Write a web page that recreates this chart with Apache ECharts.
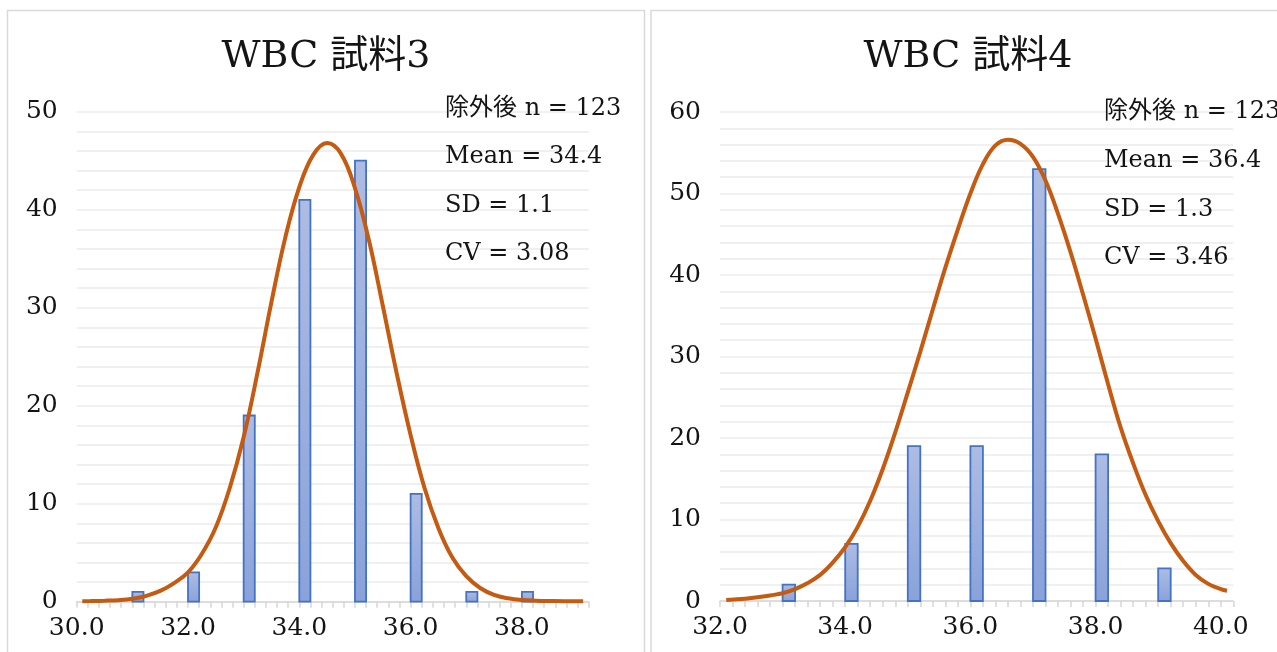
<!DOCTYPE html>
<html><head><meta charset="utf-8">
<script src="https://cdn.jsdelivr.net/npm/echarts@6/dist/echarts.min.js"></script>
<style>html,body{margin:0;padding:0;background:#fff}#c{width:1277px;height:652px}</style>
</head><body><div id="c"></div>
<script>
// ---- data ----
const bins3   = [31, 32, 33, 34, 35, 36, 37, 38];
const counts3 = [1, 3, 19, 41, 45, 11, 1, 1];
const curve3X = [30.1, 30.25, 30.5, 30.75, 31.0, 31.25, 31.5, 31.75, 32.0, 32.25, 32.5, 32.75, 33.0, 33.25, 33.5, 33.75, 34.0, 34.25, 34.5, 34.75, 35.0, 35.25, 35.5, 35.75, 36.0, 36.25, 36.5, 36.75, 37.0, 37.25, 37.5, 37.75, 38.0, 38.25, 38.5, 38.75, 39.0, 39.1];
const curve3Y = [0.05, 0.06, 0.1, 0.16, 0.3, 0.6, 1.1, 1.9, 3.0, 4.9, 7.6, 11.6, 16.8, 23.4, 30.6, 37.2, 42.3, 45.6, 46.8, 45.7, 42.2, 36.9, 30.2, 23.3, 17.0, 11.6, 7.5, 4.5, 2.6, 1.4, 0.7, 0.35, 0.17, 0.1, 0.07, 0.05, 0.05, 0.05];

const bins4   = [33, 34, 35, 36, 37, 38, 39];
const counts4 = [2, 7, 19, 19, 53, 18, 4];
const curve4X = [32.1, 32.2, 32.4, 32.6, 32.8, 33.0, 33.2, 33.4, 33.6, 33.8, 34.0, 34.2, 34.4, 34.6, 34.8, 35.0, 35.2, 35.4, 35.6, 35.8, 36.0, 36.2, 36.4, 36.6, 36.8, 37.0, 37.2, 37.4, 37.6, 37.8, 38.0, 38.2, 38.4, 38.6, 38.8, 39.0, 39.2, 39.4, 39.6, 39.8, 40.0, 40.1];
const curve4Y = [0.12, 0.17, 0.28, 0.45, 0.68, 0.95, 1.45, 2.2, 3.2, 4.7, 6.6, 9.1, 12.3, 16.2, 20.7, 25.6, 30.6, 35.8, 40.9, 45.6, 50.0, 53.6, 55.9, 56.6, 56.1, 54.5, 51.6, 47.5, 42.8, 37.6, 32.2, 26.6, 21.3, 16.9, 13.0, 9.8, 7.1, 4.9, 3.2, 2.1, 1.45, 1.25];

const xLabels3 = ['30.0', '32.0', '34.0', '36.0', '38.0'];
const xLabels4 = ['32.0', '34.0', '36.0', '38.0', '40.0'];
const titles = ['WBC 試料3', 'WBC 試料4'];
const stats3 = ['除外後 n = 123', 'Mean = 34.4', 'SD = 1.1', 'CV = 3.08'];
const stats4 = ['除外後 n = 123', 'Mean = 36.4', 'SD = 1.3', 'CV = 3.46'];

// ---- styling ----
const FONT = '"DejaVu Serif", "Noto Sans CJK JP", serif';
const TXT = '#141414';
const GRIDC = '#ececec';
const AXC = '#d6d6d6';
const BIN_W = 0.2;
const CURVE_C = '#c55a11';

const chart = echarts.init(document.getElementById('c'));

function barItem(params, api) {
  const x = api.value(0), y = api.value(1);
  const a = api.coord([x, y]);
  const b = api.coord([x + BIN_W, 0]);
  return {
    type: 'rect',
    shape: { x: a[0], y: a[1], width: b[0] - a[0], height: b[1] - a[1] },
    style: {
      fill: new echarts.graphic.LinearGradient(0, 0, 0, 1, [
        { offset: 0, color: '#adbce4' }, { offset: 1, color: '#8aa2da' }
      ]),
      stroke: '#4472c4', lineWidth: 1.8
    }
  };
}

function xAxis(gi, min, max, labels) {
  return {
    type: 'value', gridIndex: gi, min: min, max: max, interval: 0.2,
    axisLine: { show: true, lineStyle: { color: AXC, width: 1.5 } },
    axisTick: { show: true, length: 6, lineStyle: { color: AXC, width: 1.5 } },
    axisLabel: {
      fontSize: 25, fontFamily: FONT, color: TXT, margin: 14,
      showMinLabel: true, showMaxLabel: true,
      formatter: v => labels.includes(v.toFixed(1)) ? v.toFixed(1) : ''
    },
    splitLine: { show: false }
  };
}
function yAxis(gi, max) {
  return {
    type: 'value', gridIndex: gi, min: 0, max: max, interval: 10,
    axisLine: { show: false }, axisTick: { show: false },
    axisLabel: { fontSize: 25, fontFamily: FONT, color: TXT, margin: 19 },
    splitLine: { show: true, lineStyle: { color: GRIDC, width: 1.5 } },
    minorTick: { show: false, splitNumber: 5 },
    minorSplitLine: { show: true, lineStyle: { color: GRIDC, width: 1.5 } }
  };
}

function statTexts(lines, x, ys) {
  return lines.map((t, i) => ({
    type: 'text', x: x, y: ys[i], z: 100,
    style: { text: t, fontSize: 24, fontFamily: FONT, fill: TXT, align: 'left', verticalAlign: 'middle' }
  }));
}

const graphics = [
  { type: 'rect', shape: { x: 7.5, y: 10.5, width: 637, height: 680 }, style: { fill: 'none', stroke: '#d9d9d9', lineWidth: 1.5 }, z: -10 },
  { type: 'rect', shape: { x: 651, y: 10.5, width: 660, height: 680 }, style: { fill: 'none', stroke: '#d9d9d9', lineWidth: 1.5 }, z: -10 },
  { type: 'text', x: 326, y: 57, style: { text: titles[0], fontSize: 38, fontFamily: FONT, fill: TXT, align: 'center', verticalAlign: 'middle' } },
  { type: 'text', x: 968, y: 57, style: { text: titles[1], fontSize: 38, fontFamily: FONT, fill: TXT, align: 'center', verticalAlign: 'middle' } }
].concat(statTexts(stats3, 445, [109, 157, 206, 254]))
 .concat(statTexts(stats4, 1104, [112, 161, 210, 258]));

chart.setOption({
  animation: false,
  backgroundColor: '#fff',
  grid: [
    { left: 76.7, top: 111.7, width: 512, height: 490 },
    { left: 720, top: 112, width: 513.3, height: 489 }
  ],
  xAxis: [xAxis(0, 30, 39.2, xLabels3), xAxis(1, 32, 40.2, xLabels4)],
  yAxis: [yAxis(0, 50), yAxis(1, 60)],
  graphic: graphics,
  series: [
    { type: 'custom', xAxisIndex: 0, yAxisIndex: 0, renderItem: barItem, encode: { x: 0, y: 1 },
      data: bins3.map((b, i) => [b, counts3[i]]), z: 2 },
    { type: 'line', xAxisIndex: 0, yAxisIndex: 0, smooth: 0.4, showSymbol: false, symbol: 'none',
      lineStyle: { color: CURVE_C, width: 4 }, data: curve3X.map((x, i) => [x, curve3Y[i]]), z: 3 },
    { type: 'custom', xAxisIndex: 1, yAxisIndex: 1, renderItem: barItem, encode: { x: 0, y: 1 },
      data: bins4.map((b, i) => [b, counts4[i]]), z: 2 },
    { type: 'line', xAxisIndex: 1, yAxisIndex: 1, smooth: 0.4, showSymbol: false, symbol: 'none',
      lineStyle: { color: CURVE_C, width: 4 }, data: curve4X.map((x, i) => [x, curve4Y[i]]), z: 3 }
  ]
});
</script>
</body></html>
